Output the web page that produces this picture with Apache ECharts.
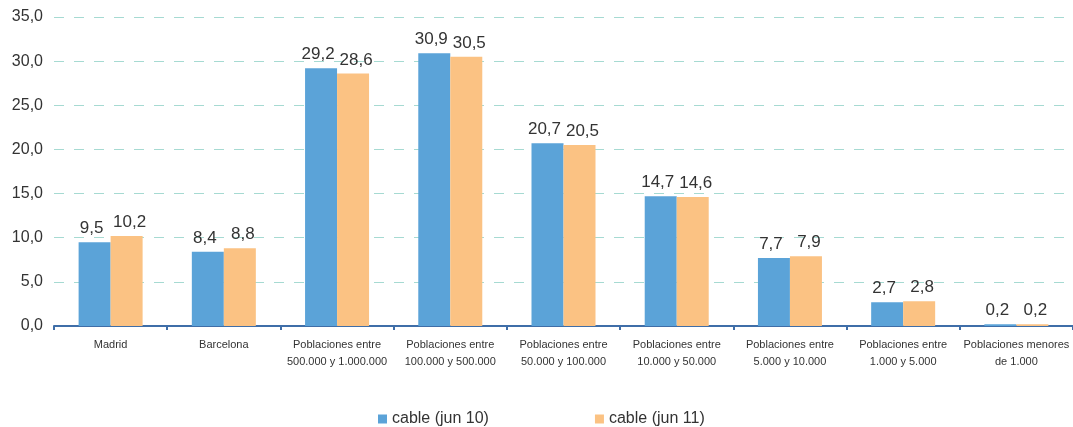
<!DOCTYPE html>
<html><head><meta charset="utf-8">
<script src="https://cdn.jsdelivr.net/npm/echarts@6/dist/echarts.min.js"></script>
<style>html,body{margin:0;padding:0;background:#fff}#c{width:1073px;height:427px}</style>
</head><body><div id="c"></div>
<script>
const categories = ["Madrid","Barcelona","Poblaciones entre\n500.000 y 1.000.000","Poblaciones entre\n100.000 y 500.000","Poblaciones entre\n50.000 y 100.000","Poblaciones entre\n10.000 y 50.000","Poblaciones entre\n5.000 y 10.000","Poblaciones entre\n1.000 y 5.000","Poblaciones menores\nde 1.000"];
const seriesNames = ["cable (jun 10)","cable (jun 11)"];
const jun10 = [9.5,8.4,29.2,30.9,20.7,14.7,7.7,2.7,0.2];
const jun11 = [10.2,8.8,28.6,30.5,20.5,14.6,7.9,2.8,0.2];
const fmt = v => v.toFixed(1).replace('.', ',');
const chart = echarts.init(document.getElementById('c'));
const lbl = (dx) => ({show:true, position:'top', distance:5, offset:[dx,0], color:'#333', fontSize:17, fontFamily:'Liberation Sans, Arial', formatter:p=>fmt(p.value)});
chart.setOption({
  animation:false,
  textStyle:{fontFamily:'Liberation Sans, Arial'},
  grid:{left:54, right:-1, top:17, bottom:101, containLabel:false},
  legend:{top:406, left:373, itemWidth:9, itemHeight:9, itemGap:106, icon:'rect',
    textStyle:{fontSize:16, color:'#333'}, data:seriesNames},
  xAxis:{type:'category', data:categories,
    axisLine:{lineStyle:{color:'#3f6ea8', width:2}},
    axisTick:{show:true, length:4, lineStyle:{color:'#3f6ea8', width:2}},
    axisLabel:{color:'#333', fontSize:11, lineHeight:17, margin:10, interval:0}},
  yAxis:{type:'value', min:0, max:35, interval:5,
    axisLine:{show:false}, axisTick:{show:false},
    axisLabel:{color:'#333', fontSize:16, margin:11, formatter:v=>fmt(v)},
    splitLine:{lineStyle:{color:'#a6dad2', type:[10,10], width:1}}},
  series:[
    {name:seriesNames[0], type:'bar', data:jun10, barWidth:32, barGap:'0%', itemStyle:{color:'#5ba3d8'}, label:lbl(-3)},
    {name:seriesNames[1], type:'bar', data:jun11, barWidth:32, itemStyle:{color:'#fbc283'}, label:lbl(3)}
  ]
});
</script></body></html>
